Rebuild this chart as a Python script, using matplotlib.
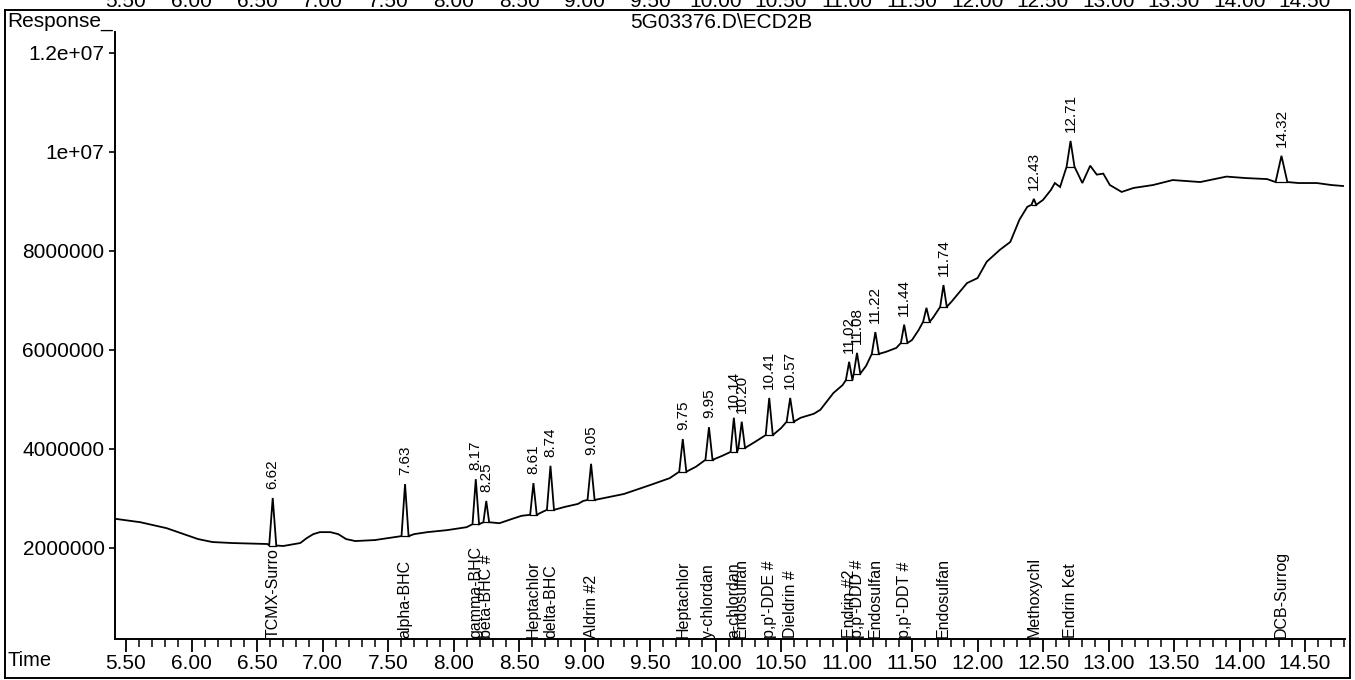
import matplotlib
matplotlib.use("Agg")
import matplotlib.pyplot as plt
from matplotlib.lines import Line2D
from matplotlib.ticker import MultipleLocator, FixedLocator, FixedFormatter

plt.rcParams["font.family"] = ["Liberation Sans", "DejaVu Sans"]

# ---- chromatogram data -------------------------------------------------
# baseline of the ECD trace (time in min, response)
base_t = [5.416, 5.61, 5.81, 6.05, 6.16, 6.31, 6.58, 6.70, 6.83, 6.88, 6.93,
          6.98, 7.06, 7.12, 7.18, 7.25, 7.40, 7.55, 7.70, 7.80, 7.95, 8.10,
          8.35, 8.45, 8.52, 8.68, 8.85, 8.95, 8.99, 9.15, 9.30, 9.50, 9.65,
          9.85, 10.05, 10.30, 10.50, 10.65, 10.75, 10.80, 10.90, 10.97, 11.15,
          11.30, 11.38, 11.50, 11.55, 11.66, 11.80, 11.92, 12.00, 12.07, 12.17,
          12.25, 12.32, 12.38, 12.50, 12.56, 12.59, 12.63, 12.80, 12.86, 12.91,
          12.96, 13.01, 13.10, 13.19, 13.34, 13.49, 13.70, 13.90, 14.05, 14.21,
          14.28, 14.45, 14.59, 14.70, 14.79]
base_v = [2.59e6, 2.52e6, 2.40e6, 2.18e6, 2.12e6, 2.10e6, 2.08e6, 2.04e6, 2.10e6,
          2.20e6, 2.28e6, 2.32e6, 2.32e6, 2.28e6, 2.18e6, 2.14e6, 2.16e6, 2.22e6,
          2.28e6, 2.32e6, 2.36e6, 2.42e6, 2.50e6, 2.59e6, 2.65e6, 2.73e6, 2.83e6,
          2.89e6, 2.95e6, 3.01e6, 3.09e6, 3.27e6, 3.41e6, 3.64e6, 3.86e6, 4.14e6,
          4.42e6, 4.63e6, 4.71e6, 4.79e6, 5.13e6, 5.29e6, 5.68e6, 5.96e6, 6.04e6,
          6.20e6, 6.40e6, 6.65e6, 6.97e6, 7.35e6, 7.45e6, 7.78e6, 8.02e6, 8.18e6,
          8.63e6, 8.89e6, 9.03e6, 9.23e6, 9.37e6, 9.29e6, 9.37e6, 9.72e6, 9.54e6,
          9.56e6, 9.33e6, 9.19e6, 9.27e6, 9.33e6, 9.43e6, 9.39e6, 9.50e6, 9.47e6,
          9.45e6, 9.41e6, 9.37e6, 9.37e6, 9.33e6, 9.31e6]

# integrated peaks: retention time, apex, foot level, half width, labelled?
peak_rt = [6.62, 7.63, 8.17, 8.25, 8.61, 8.74, 9.05, 9.75, 9.95, 10.14, 10.20,
           10.41, 10.57, 11.02, 11.08, 11.22, 11.44, 11.61, 11.74, 12.43, 12.71,
           14.32]
peak_top = [3.01e6, 3.29e6, 3.39e6, 2.95e6, 3.31e6, 3.66e6, 3.70e6, 4.20e6,
            4.44e6, 4.63e6, 4.55e6, 5.03e6, 5.03e6, 5.76e6, 5.94e6, 6.36e6,
            6.51e6, 6.85e6, 7.31e6, 9.05e6, 10.22e6, 9.92e6]
peak_foot = [2.05e6, 2.24e6, 2.48e6, 2.52e6, 2.67e6, 2.77e6, 2.97e6, 3.54e6,
             3.78e6, 3.94e6, 4.02e6, 4.28e6, 4.55e6, 5.39e6, 5.52e6, 5.92e6,
             6.14e6, 6.57e6, 6.87e6, 8.93e6, 9.70e6, 9.39e6]
peak_hw = [0.027, 0.027, 0.025, 0.022, 0.025, 0.027, 0.027, 0.027, 0.027,
           0.025, 0.025, 0.027, 0.027, 0.025, 0.025, 0.027, 0.025, 0.025,
           0.025, 0.018, 0.030, 0.045]
peak_labelled = [True] * 17 + [False] + [True] * 4

# compound identification marks along the time axis
compound_rt = [6.62, 7.63, 8.17, 8.25, 8.61, 8.74, 9.05, 9.75, 9.95, 10.14,
               10.20, 10.41, 10.57, 11.02, 11.08, 11.22, 11.44, 11.74, 12.43,
               12.71, 14.32]
compound_names = ["TCMX-Surro", "alpha-BHC", "gamma-BHC", "beta-BHC #",
                  "Heptachlor", "delta-BHC", "Aldrin #2", "Heptachlor",
                  "y-chlordan", "a-chlordan", "Endosulfan", "p,p'-DDE #",
                  "Dieldrin #", "Endrin #2", "p,p'-DDD #", "Endosulfan",
                  "p,p'-DDT #", "Endosulfan", "Methoxychl", "Endrin Ket",
                  "DCB-Surrog"]

x_ticks = [5.5, 6.0, 6.5, 7.0, 7.5, 8.0, 8.5, 9.0, 9.5, 10.0, 10.5, 11.0,
           11.5, 12.0, 12.5, 13.0, 13.5, 14.0, 14.5]
x_tick_labels = ["5.50", "6.00", "6.50", "7.00", "7.50", "8.00", "8.50",
                 "9.00", "9.50", "10.00", "10.50", "11.00", "11.50", "12.00",
                 "12.50", "13.00", "13.50", "14.00", "14.50"]
y_ticks = [2e6, 4e6, 6e6, 8e6, 1e7, 1.2e7]
y_tick_labels = ["2000000", "4000000", "6000000", "8000000", "1e+07", "1.2e+07"]

title = "5G03376.D\\ECD2B"

# ---- assemble the trace -------------------------------------------------
pts = [(t, v) for t, v in zip(base_t, base_v)
       if not any(abs(t - rt) <= hw for rt, hw in zip(peak_rt, peak_hw))]
for rt, top, foot, hw in zip(peak_rt, peak_top, peak_foot, peak_hw):
    pts += [(rt - hw, foot), (rt, top), (rt + hw, foot)]
pts.sort()
trace_t = [p[0] for p in pts]
trace_v = [p[1] for p in pts]

# ---- figure ---------------------------------------------------------------
W, H = 1355, 680
fig = plt.figure(figsize=(W / 100, H / 100), dpi=100)
fig.patch.set_facecolor("white")


def fx(px):
    return px / W


def fy(py):
    return 1 - py / H


ax = fig.add_axes([fx(115), fy(639), fx(1345) - fx(115), fy(32) - fy(639)])
ax.set_xlim(5.416, 14.805)
ax.set_ylim(0.162e6, 12.42e6)

for s in ("top", "right"):
    ax.spines[s].set_visible(False)
for s in ("left", "bottom"):
    ax.spines[s].set_linewidth(1.4)
    ax.spines[s].set_color("black")

ax.plot(trace_t, trace_v, color="black", lw=1.3, solid_joinstyle="miter")

# integration baselines under each peak
for rt, foot, hw in zip(peak_rt, peak_foot, peak_hw):
    ax.plot([rt - hw, rt + hw], [foot, foot], color="black", lw=0.9)

# retention-time labels above peaks
for rt, top, lab in zip(peak_rt, peak_top, peak_labelled):
    if lab:
        ax.annotate(f"{rt:.2f}", xy=(rt, top), xytext=(0, 6.5),
                    textcoords="offset points", rotation=90,
                    ha="center", va="bottom", fontsize=11)

# compound names standing on the time axis
for rt, name in zip(compound_rt, compound_names):
    ax.text(rt, 0.002, name, transform=ax.get_xaxis_transform(),
            rotation=90, ha="center", va="bottom", fontsize=11.5)

ax.xaxis.set_major_locator(FixedLocator(x_ticks))
ax.xaxis.set_major_formatter(FixedFormatter(x_tick_labels))
ax.xaxis.set_minor_locator(MultipleLocator(0.1))
ax.yaxis.set_major_locator(FixedLocator(y_ticks))
ax.yaxis.set_major_formatter(FixedFormatter(y_tick_labels))

ax.tick_params(axis="x", which="major", direction="out", length=9.5,
               width=1.3, labelsize=15, pad=1.5)
ax.tick_params(axis="x", which="minor", direction="out", length=5.5, width=1.1)
ax.tick_params(axis="y", which="major", direction="out", length=4.5,
               width=1.2, labelsize=15, pad=3)

# header / footer text
fig.text(fx(7), fy(12), "Response_", ha="left", va="top", fontsize=15)
fig.text(fx(721), fy(22), title, ha="center", va="center", fontsize=15)
fig.text(fx(7), fy(661), "Time", ha="left", va="center", fontsize=14.5)

# axis labels of the preceding panel, cut off at the page edge
for t, lab in zip(x_ticks, x_tick_labels):
    xp = 126 + (t - 5.5) * 131
    fig.text(fx(xp), fy(7), lab, ha="center", va="baseline", fontsize=15)

# page frame
frame = [((5, 5), (10, 678)), ((1350, 1350), (10, 678)),
         ((5, 1350), (10, 10)), ((5, 1350), (678, 678))]
for xs, ys in frame:
    fig.add_artist(Line2D([fx(xs[0]), fx(xs[1])], [fy(ys[0]), fy(ys[1])],
                          color="black", lw=1.4, transform=fig.transFigure))

fig.savefig("out.png", dpi=100, facecolor="white")
